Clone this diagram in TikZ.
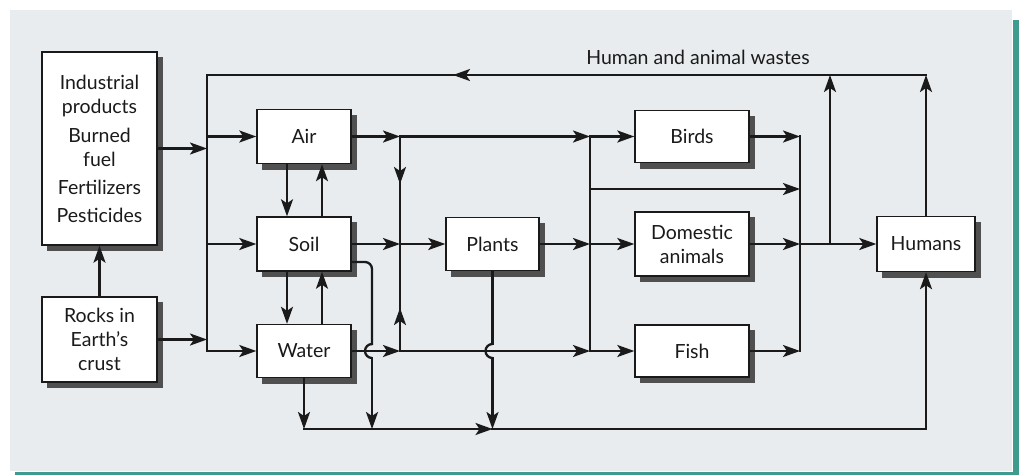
\documentclass[tikz,border=0pt]{standalone}
\usepackage{fontspec}
\setmainfont{Lato}
\usetikzlibrary{arrows.meta}
\definecolor{panel}{HTML}{E8ECEE}
\definecolor{tealbar}{HTML}{3E9B8E}
\definecolor{shadowgrey}{HTML}{505050}
\definecolor{ink}{HTML}{1A1A1A}
\begin{document}
\begin{tikzpicture}[x=1pt,y=-1pt,
  box/.style={draw=ink, line width=1.4pt, fill=white, inner sep=0pt, align=center,
    font=\fontsize{19.5}{24}\selectfont, text=ink},
  lbl/.style={font=\fontsize{19.5}{24}\selectfont, text=ink},
  ln/.style={draw=ink, line width=2.3pt, line cap=rect, line join=miter},
  arr/.style={ln, -{Stealth[length=17pt,width=12pt,inset=4pt]}},
  hop/.style={ln, line cap=butt},
]
\useasboundingbox (0,0) rectangle (1019,475);
\fill[white] (0,0) rectangle (1019,475);
\fill[panel] (10,10) rectangle (1012,471);
\fill[tealbar] (1013,20) rectangle (1019,475);
\fill[tealbar] (15,472) rectangle (1013,475);

% shadows (offset 5 right, 5 down)
\fill[shadowgrey] (47,57) rectangle (163,251);
\fill[shadowgrey] (47,302) rectangle (163,388);
\fill[shadowgrey] (262,114.5) rectangle (357,169.5);
\fill[shadowgrey] (262,222) rectangle (357,277);
\fill[shadowgrey] (262,329.5) rectangle (357,383.5);
\fill[shadowgrey] (451,222.5) rectangle (545,276.5);
\fill[shadowgrey] (640,115.5) rectangle (755,168.5);
\fill[shadowgrey] (640,217) rectangle (755,282);
\fill[shadowgrey] (640,330) rectangle (755,383);
\fill[shadowgrey] (882,221.5) rectangle (981,277.5);

% boxes
\node[box, minimum width=115pt, minimum height=193pt] (ind) at (99.5,148.5)
  {Industrial\\products\\[5pt]Burned\\fuel\\[4pt]Fertilizers\\[4pt]Pesticides};
\node[box, minimum width=115pt, minimum height=85pt] (rocks) at (99.5,339.5)
  {Rocks in\\Earth’s\\crust};
\node[box, minimum width=94pt, minimum height=54pt] (air) at (304,136.5) {Air};
\node[box, minimum width=94pt, minimum height=54pt] (soil) at (304,244) {Soil};
\node[box, minimum width=94pt, minimum height=53pt] (water) at (304,351) {Water};
\node[box, minimum width=93pt, minimum height=53pt] (plants) at (492.5,244) {Plants};
\node[box, minimum width=114pt, minimum height=52pt] (birds) at (692,136.5) {Birds};
\node[box, minimum width=114pt, minimum height=64pt] (dom) at (692,244) {Domestic\\animals};
\node[box, minimum width=114pt, minimum height=52pt] (fish) at (692,351) {Fish};
\node[box, minimum width=98pt, minimum height=55pt] (humans) at (926,244) {Humans};

\node[lbl] (wastes) at (698,57) {Human and animal wastes};

% coordinates
\coordinate (tl) at (207,75);
\coordinate (vl3) at (207,351);
\coordinate (j1) at (400,136.5);
\coordinate (j2) at (400,244);
\coordinate (j3) at (400,351);
\coordinate (k1) at (590,136.5);
\coordinate (k2) at (590,244);
\coordinate (k3) at (590,351);
\coordinate (k4) at (590,189);
\coordinate (m1) at (800,136.5);
\coordinate (m2) at (800,244);
\coordinate (m3) at (800,351);
\coordinate (m4) at (800,189);
\coordinate (n2) at (830,244);
\coordinate (b0) at (304,429);
\coordinate (bs) at (372,429);
\coordinate (bp) at (492.5,429);

% waste loop (top) and left feeder
\draw[arr] (humans.north |- tl) -- (tl) -- (vl3) -- (water.west);
\draw[arr] (600,75) -- (453,75);
\draw[arr] (tl |- air.west) -- (air.west);
\draw[arr] (tl |- soil.west) -- (soil.west);
\draw[arr] (ind.east) -- (ind.east -| tl);
\draw[arr] (rocks.east) -- (rocks.east -| tl);
\draw[arr] (rocks.north) -- (ind.south);

% air/soil/water exchanges
\draw[arr] ([xshift=-17pt]air.south) -- ([xshift=-17pt]soil.north);
\draw[arr] ([xshift=18pt]soil.north) -- ([xshift=18pt]air.south);
\draw[arr] ([xshift=-17pt]soil.south) -- ([xshift=-17pt]water.north);
\draw[arr] ([xshift=18pt]water.north) -- ([xshift=18pt]soil.south);

% rows
\draw[arr] (air.east) -- (j1);
\draw[arr] (j1) -- (k1);
\draw[arr] (k1) -- (birds.west);
\draw[arr] (soil.east) -- (j2);
\draw[arr] (j2) -- (plants.west);
\draw[arr] (water.east) -- (j3);
\draw[arr] (j3) -- (k3);
\draw[arr] (k3) -- (fish.west);
\draw[arr] (plants.east) -- (k2);
\draw[arr] (k2) -- (dom.west);

% vertical at x=400
\draw[ln] (j1) -- (j3);
\draw[arr] (j1) -- (400,184);
\draw[arr] (j3) -- (400,308);

% vertical at x=590 and branch
\draw[ln] (k1) -- (k3);
\draw[arr] (k4) -- (m4);

% collector to humans
\draw[ln] (m1) -- (m3);
\draw[arr] (birds.east) -- (m1);
\draw[arr] (dom.east) -- (m2);
\draw[arr] (fish.east) -- (m3);
\draw[arr] (m2) -- (humans.west);
\draw[arr] (n2) -- (n2 |- tl);
\draw[arr] (humans.north) -- (humans.north |- tl);

% soil down line with hop
\draw[ln, rounded corners=7pt] ([yshift=-18pt]soil.east) -- (372,262) -- (372,344);
\draw[hop] (372,344) arc[start angle=270, end angle=90, radius=7];
\draw[arr] (372,358) -- (bs);

% plants down line with hop
\draw[ln] (plants.south) -- (492.5,344);
\draw[hop] (492.5,344) arc[start angle=270, end angle=90, radius=7];
\draw[arr] (492.5,358) -- (bp);

% water down and bottom line
\draw[arr] (water.south) -- (b0);
\draw[arr] (b0) -- (bp);
\draw[arr] (bp) -- (humans.south |- bp) -- (humans.south);
\end{tikzpicture}
\end{document}
